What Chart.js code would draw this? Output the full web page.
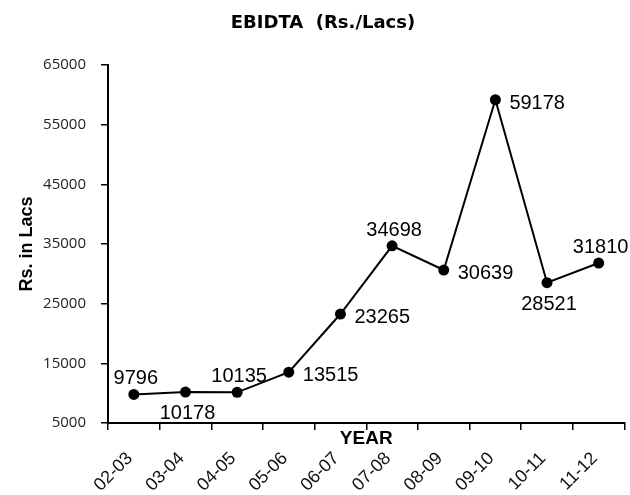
<!DOCTYPE html>
<html lang="en">
<head>
<meta charset="utf-8">
<title>EBIDTA (Rs./Lacs)</title>
<script src="https://cdn.jsdelivr.net/npm/chart.js"></script>
<style>
  html, body { margin: 0; padding: 0; background: #fff; }
  .chart-container { width: 630px; height: 495px; }
</style>
</head>
<body>
<div class="chart-container"><canvas id="graph"></canvas></div>
<script>
const years = ['02-03', '03-04', '04-05', '05-06', '06-07', '07-08', '08-09', '09-10', '10-11', '11-12'];
const ebidta = [9796, 10178, 10135, 13515, 23265, 34698, 30639, 59178, 28521, 31810];
const yTicks = [5000, 15000, 25000, 35000, 45000, 55000, 65000];

// value labels next to each point, drawn straight on the canvas
const pointLabels = {
  id: 'pointLabels',
  afterDatasetsDraw(chart, args, opts) {
    const ctx = chart.ctx;
    const meta = chart.getDatasetMeta(0);
    ctx.save();
    ctx.font = opts.font;
    ctx.fillStyle = '#000';
    ctx.textBaseline = 'alphabetic';
    meta.data.forEach(function(pt, i) {
      const text = String(chart.data.datasets[0].data[i]);
      const place = opts.place[i];
      if (place === 'right') {
        ctx.textAlign = 'left';
        ctx.fillText(text, pt.x + 14, pt.y + 9);
      } else if (place === 'above') {
        ctx.textAlign = 'center';
        ctx.fillText(text, pt.x + 2, pt.y - 10);
      } else {
        ctx.textAlign = 'center';
        ctx.fillText(text, pt.x + 2, pt.y + 27);
      }
    });
    ctx.restore();
  }
};

const ctx = document.getElementById('graph').getContext('2d');
const graph = new Chart(ctx, {
  type: 'line',
  data: {
    labels: years,
    datasets: [{
      label: 'EBIDTA',
      data: ebidta,
      borderColor: '#000',
      borderWidth: 2,
      backgroundColor: '#000',
      pointBackgroundColor: '#000',
      pointBorderWidth: 0,
      pointRadius: 5.5,
      tension: 0
    }]
  },
  options: {
    responsive: true,
    maintainAspectRatio: false,
    animation: false,
    layout: { padding: { left: 20, right: 4, top: 0, bottom: 0 } },
    scales: {
      x: {
        type: 'category',
        offset: true,
        grid: { display: true, drawOnChartArea: false, offset: true, tickLength: 7, color: '#000', lineWidth: 1.5 },
        border: { display: true, color: '#000', width: 2 },
        ticks: {
          color: '#111',
          font: { family: 'Liberation Sans', size: 18 },
          minRotation: 45,
          maxRotation: 45,
          padding: 18,
          labelOffset: -4,
          autoSkip: false
        },
        title: {
          display: true,
          text: 'YEAR',
          color: '#000',
          font: { family: 'Liberation Sans', size: 19, weight: 'bold' },
          padding: { top: 0, bottom: 44.6 }
        },
        afterFit: function(scale) {
          scale.height = 72;
          scale.paddingRight = 0;
        }
      },
      y: {
        min: 5000,
        max: 65000,
        grid: { display: true, drawOnChartArea: false, tickLength: 7, color: '#000', lineWidth: 1.5 },
        border: { display: true, color: '#000', width: 2 },
        ticks: {
          color: '#222',
          font: { family: 'Open Sans', size: 15 },
          padding: 15,
          callback: function(v) { return String(v); }
        },
        afterBuildTicks: function(scale) {
          scale.ticks = yTicks.map(function(v) { return { value: v }; });
        },
        title: {
          display: true,
          text: 'Rs. in Lacs',
          color: '#000',
          font: { family: 'Liberation Sans', size: 18, weight: 'bold' },
          padding: { top: -4, bottom: 0 }
        },
        afterFit: function(scale) { scale.width = 88; }
      }
    },
    plugins: {
      legend: { display: false },
      tooltip: { enabled: false },
      title: {
        display: true,
        text: 'EBIDTA  (Rs./Lacs)',
        color: '#000',
        font: { family: 'DejaVu Sans', size: 18, weight: 'bold' },
        padding: { top: 13, bottom: 30.4 }
      },
      pointLabels: {
        font: '20px "Liberation Sans"',
        place: ['above', 'below', 'above', 'right', 'right', 'above', 'right', 'right', 'below', 'above']
      }
    }
  },
  plugins: [pointLabels]
});
</script>
</body>
</html>
